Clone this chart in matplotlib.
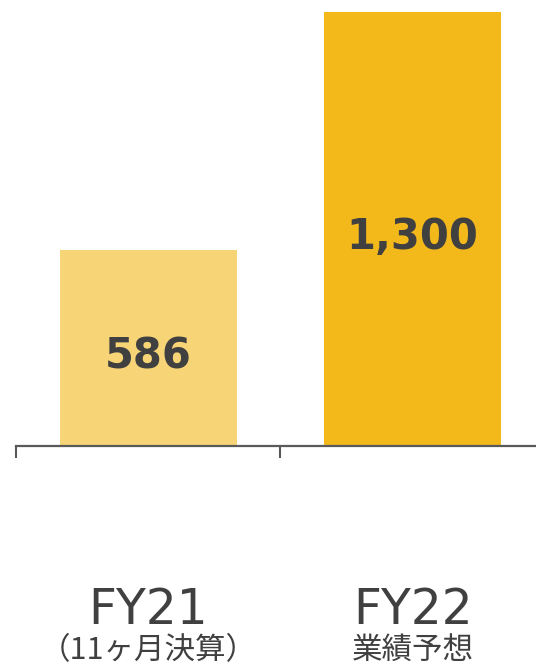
import matplotlib
matplotlib.use("Agg")
import matplotlib.pyplot as plt

# data
categories = ["FY21", "FY22"]
sublabels = ["（11ヶ月決算）", "業績予想"]
values = [586, 1300]
value_labels = ["586", "1,300"]
bar_colors = ["#F7D576", "#F3B91B"]

text_color = "#404040"
axis_color = "#595959"

fig = plt.figure(figsize=(5.36, 6.64), dpi=100)
# axes spans from the first tick (x=16px) to the right edge, baseline at y=446px
ax = fig.add_axes([16 / 536, (664 - 446) / 664, 520 / 536, 446 / 664])

x = list(range(len(categories)))
ax.bar(x, values, width=0.67, color=bar_colors, zorder=2)

ax.set_xlim(-0.5, 1.466)
ax.set_ylim(0, 1300 * 446 / 434)

for s in ["top", "right", "left"]:
    ax.spines[s].set_visible(False)
ax.spines["bottom"].set_color(axis_color)
ax.spines["bottom"].set_linewidth(1.6)
ax.spines["bottom"].set_zorder(3)

ax.set_yticks([])
ax.set_xticks([])
ax.set_xticks([-0.5, 0.5], minor=True)
ax.tick_params(axis="x", which="minor", length=8.5, width=1.5, color=axis_color,
               direction="out", labelbottom=False)

# value labels centered in bars
for i, v in enumerate(values):
    ax.annotate(value_labels[i], xy=(i, v / 2), xytext=(0, -14.4),
                textcoords="offset points", ha="center", va="baseline",
                fontsize=30, fontweight="bold", color=text_color,
                family=["DejaVu Sans", "Noto Sans CJK JP"])

# category labels under axis
for i, (c, s) in enumerate(zip(categories, sublabels)):
    ax.text(i, -0.399, c, transform=ax.get_xaxis_transform(), ha="center",
            va="baseline", fontsize=35, color=text_color,
            family=["DejaVu Sans", "Noto Sans CJK JP"], clip_on=False)
    ax.text(i, -0.477, s, transform=ax.get_xaxis_transform(), ha="center",
            va="baseline", fontsize=22, color=text_color,
            family=["Noto Sans CJK JP", "DejaVu Sans"], clip_on=False)

fig.savefig("out.png", dpi=100)
